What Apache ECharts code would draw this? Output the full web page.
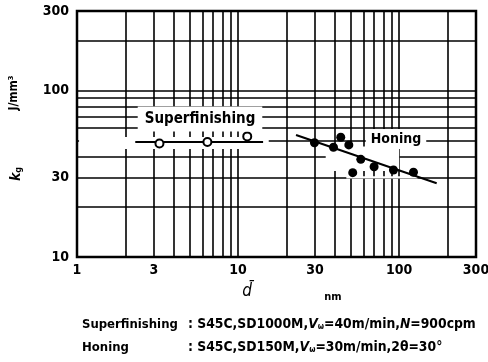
<!DOCTYPE html>
<html>
<head>
<meta charset="utf-8">
<script src="https://cdn.jsdelivr.net/npm/echarts@6/dist/echarts.min.js"></script>
<style>
  html, body { margin: 0; padding: 0; background: #fff; }
  #chart { width: 488px; height: 362px; }
</style>
</head>
<body>
<div id="chart"></div>
<script>
// grid lines and tick labels (log axes)
const xGrid = [1, 2, 3, 4, 5, 6, 7, 8, 9, 10, 20, 30, 40, 50, 60, 70, 80, 90, 100, 200, 300];
const yGrid = [10, 20, 30, 40, 50, 60, 70, 80, 90, 100, 200, 300];
const xTicks = [1, 3, 10, 30, 100, 300];
const yTicks = [10, 30, 100, 300];

// Superfinishing: open circles + fitted line
const superPoints = [[3.25, 48], [6.45, 49], [11.4, 53]];
const superLine = [[2.3, 49], [14.3, 49]];

// Honing: filled circles + fitted line
const honingPoints = [
  [29.8, 48.5], [39.1, 45.6], [43.4, 52.4], [48.7, 47.1], [57.8, 38.6],
  [51.5, 32.1], [69.9, 34.8], [92.2, 33.3], [122.7, 32.3]
];
const honingLine = [[22.9, 54], [171, 27.7]];

// white bands where the original drawing blanks the grid around the data
const maskAreas = [
  [[1.03, 44.5], [15.5, 52.5]],
  [[35, 32.8], [100, 46]],
  [[47, 29.6], [130, 30.5]],
];

const FONT = "'DejaVu Sans Condensed', 'DejaVu Sans', sans-serif";
const chart = echarts.init(document.getElementById("chart"));

const gridLabel = {
  color: "#000",
  fontFamily: FONT,
  fontWeight: "bold",
  fontSize: 14,
  position: "start",
  formatter: (p) => String(p.value),
};

const noteRich = {
  t: { fill: "#000", font: "bold 13.8px " + FONT },
  i: { fill: "#000", font: "bold italic 13.8px " + FONT },
  s: { fill: "#000", font: "bold 8px " + FONT, padding: [6, 0, 0, 0] },
};

const option = {
  animation: false,
  backgroundColor: "#fff",
  grid: {
    left: 77,
    right: 12,
    top: 11,
    bottom: 105,
    show: true,
    borderColor: "#000",
    borderWidth: 2.5,
    backgroundColor: "transparent",
  },
  xAxis: {
    type: "log",
    logBase: 10,
    min: 1,
    max: 300,
    axisLine: { show: false },
    axisTick: { show: false },
    axisLabel: { show: false },
    splitLine: { show: false },
  },
  yAxis: {
    type: "log",
    logBase: 10,
    min: 10,
    max: 300,
    axisLine: { show: false },
    axisTick: { show: false },
    axisLabel: { show: false },
    splitLine: { show: false },
  },
  series: [
    {
      // grid lines drawn as mark lines so they follow the log scale
      type: "line",
      data: [],
      silent: true,
      z: 1,
      markLine: {
        silent: true,
        z: 1,
        symbol: ["none", "none"],
        lineStyle: { color: "#000", width: 1.6, type: "solid" },
        emphasis: { disabled: true },
        data: [
          ...xGrid.map((v) => ({
            xAxis: v,
            label: { ...gridLabel, show: xTicks.includes(v), distance: 6 },
          })),
          ...yGrid.map((v) => ({
            yAxis: v,
            label: { ...gridLabel, show: yTicks.includes(v), distance: 8 },
          })),
        ],
      },
      markArea: {
        silent: true,
        z: 2,
        itemStyle: { color: "#fff" },
        emphasis: { disabled: true },
        data: maskAreas.map(([a, b]) => [{ coord: a }, { coord: b }]),
      },
    },
    {
      name: "Superfinishing line",
      type: "line",
      data: superLine,
      symbol: "none",
      lineStyle: { color: "#000", width: 2 },
      z: 10,
    },
    {
      name: "Honing line",
      type: "line",
      data: honingLine,
      symbol: "none",
      lineStyle: { color: "#000", width: 2 },
      z: 10,
    },
    {
      name: "Superfinishing",
      type: "scatter",
      data: superPoints,
      symbol: "circle",
      symbolSize: 8,
      itemStyle: { color: "#fff", borderColor: "#000", borderWidth: 2, opacity: 1 },
      emphasis: { disabled: true },
      z: 11,
    },
    {
      name: "Honing",
      type: "scatter",
      data: honingPoints,
      symbol: "circle",
      symbolSize: 9,
      itemStyle: { color: "#000", opacity: 1 },
      emphasis: { disabled: true },
      z: 11,
    },
  ],
  graphic: [
    {
      type: "text",
      x: 200,
      y: 119,
      z: 100,
      style: {
        text: "Superfinishing",
        fill: "#000",
        font: "bold 15px " + FONT,
        align: "center",
        verticalAlign: "middle",
        backgroundColor: "#fff",
        padding: [5, 7],
      },
    },
    {
      type: "text",
      x: 396,
      y: 139,
      z: 100,
      style: {
        text: "Honing",
        fill: "#000",
        font: "bold 14px " + FONT,
        align: "center",
        verticalAlign: "middle",
        backgroundColor: "#fff",
        padding: [3, 5],
      },
    },
    {
      type: "text",
      x: 14,
      y: 93,
      rotation: Math.PI / 2,
      style: {
        text: "J/mm³",
        fill: "#000",
        font: "bold 12px " + FONT,
        align: "center",
        verticalAlign: "middle",
      },
    },
    {
      type: "text",
      x: 16,
      y: 174,
      rotation: Math.PI / 2,
      style: {
        text: "{k|k}{s|g}",
        align: "center",
        verticalAlign: "middle",
        rich: {
          k: { fill: "#000", font: "bold italic 14px " + FONT },
          s: { fill: "#000", font: "bold 9px " + FONT, padding: [6, 0, 0, 0] },
        },
      },
    },
    {
      type: "text",
      x: 247,
      y: 292,
      style: {
        text: "d\u0304",
        fill: "#000",
        font: "italic 17px " + FONT,
        align: "center",
        verticalAlign: "middle",
      },
    },
    {
      type: "text",
      x: 333,
      y: 297,
      style: {
        text: "nm",
        fill: "#000",
        font: "bold 11px " + FONT,
        align: "center",
        verticalAlign: "middle",
      },
    },
    {
      type: "text",
      left: 82,
      top: 318.5,
      style: {
        text: "Superfinishing",
        fill: "#000",
        font: "bold 13px " + FONT,
      },
    },
    {
      type: "text",
      left: 188,
      top: 317,
      style: {
        text: "{t|: S45C,SD1000M,}{i|V}{s|ω}{t|=40m/min,}{i|N}{t|=900cpm}",
        rich: noteRich,
      },
    },
    {
      type: "text",
      left: 82,
      top: 341.5,
      style: {
        text: "Honing",
        fill: "#000",
        font: "bold 13px " + FONT,
      },
    },
    {
      type: "text",
      left: 188,
      top: 340,
      style: {
        text: "{t|: S45C,SD150M,}{i|V}{s|ω}{t|=30m/min,2θ=30°}",
        rich: noteRich,
      },
    },
  ],
};

chart.setOption(option);
</script>
</body>
</html>
